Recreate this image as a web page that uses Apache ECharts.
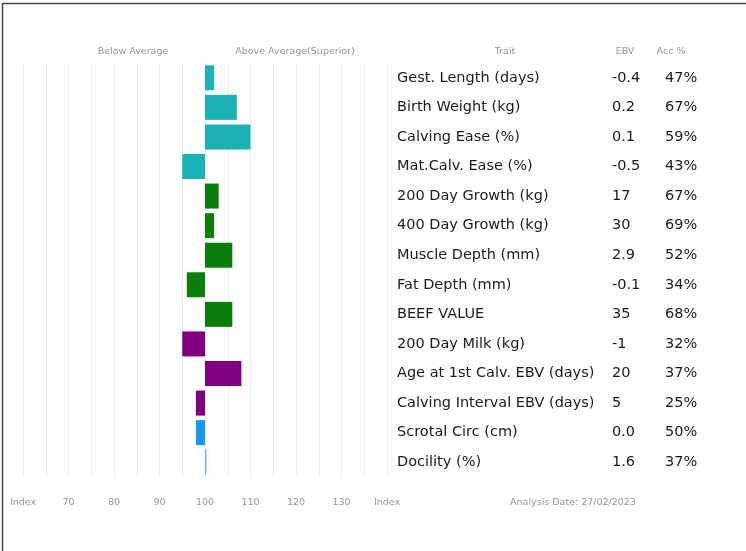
<!DOCTYPE html>
<html>
<head>
<meta charset="utf-8">
<script src="https://cdn.jsdelivr.net/npm/echarts@6/dist/echarts.min.js"></script>
<style>
html,body{margin:0;padding:0;background:#fff;}
#c{width:746px;height:551px;}
</style>
</head>
<body>
<div id="c"></div>
<script>
var traits = ['Gest. Length (days)','Birth Weight (kg)','Calving Ease (%)','Mat.Calv. Ease (%)','200 Day Growth (kg)','400 Day Growth (kg)','Muscle Depth (mm)','Fat Depth (mm)','BEEF VALUE','200 Day Milk (kg)','Age at 1st Calv. EBV (days)','Calving Interval EBV (days)','Scrotal Circ (cm)','Docility (%)'];
var indexValues = [102,107,110,95,103,102,106,96,106,95,108,98,98,100.3];
var ebv = ['-0.4','0.2','0.1','-0.5','17','30','2.9','-0.1','35','-1','20','5','0.0','1.6'];
var acc = ['47%','67%','59%','43%','67%','69%','52%','34%','68%','32%','37%','25%','50%','37%'];
var barColors = ['#1bb3b6','#1bb3b6','#1bb3b6','#1bb3b6','#0a7d0a','#0a7d0a','#0a7d0a','#0a7d0a','#0a7d0a','#800080','#800080','#800080','#1a98ee','#5ab2ee'];
var headers = {below:'Below Average', above:'Above Average(Superior)', trait:'Trait', ebv:'EBV', acc:'Acc %', date:'Analysis Date: 27/02/2023'};

var FONT = 'DejaVu Sans';
var baseData = indexValues.map(function(v){return Math.min(v,100);});
var deltaData = indexValues.map(function(v,i){return {value:Math.abs(v-100), itemStyle:{color:barColors[i]}};});

var chart = echarts.init(document.getElementById('c'));
var smallText = {fill:'#959595', fontSize:9.5, fontFamily:FONT};
function txt(x,y,s,align){return {type:'text', x:x, y:y, style:Object.assign({text:s, textAlign:align||'center', textVerticalAlign:'middle'}, smallText)};}
chart.setOption({
  animation:false,
  grid:{left:23, right:359, top:63, height:414},
  xAxis:{type:'value', min:60, max:140, interval:5,
    axisLine:{show:false}, axisTick:{show:false},
    splitLine:{show:true, lineStyle:{color:'#ececec', width:1}},
    axisLabel:{margin:21, color:'#959595', fontSize:9.5, fontFamily:FONT,
      formatter:function(v){ if(v===60||v===140) return 'Index'; return v%10===0? String(v):''; }}
  },
  yAxis:{type:'category', data:traits, inverse:true, position:'right',
    axisLine:{show:false}, axisTick:{show:false}, splitLine:{show:false},
    axisLabel:{margin:10, align:'left', fontFamily:FONT,
      formatter:function(v, i){ return '{a|'+v+'}{b|'+ebv[i]+'}{c|'+acc[i]+'}'; },
      rich:{
        a:{width:215, fontSize:14.5, color:'#1a1a1a', fontFamily:FONT},
        b:{width:53, fontSize:14.5, color:'#1a1a1a', fontFamily:FONT},
        c:{fontSize:14.5, color:'#1a1a1a', fontFamily:FONT}
      }}
  },
  series:[
    {type:'bar', stack:'s', data:baseData, barWidth:25, itemStyle:{color:'transparent'}, silent:true},
    {type:'bar', stack:'s', data:deltaData, barWidth:25}
  ],
  graphic:[
    {type:'line', shape:{x1:2, y1:3.5, x2:746, y2:3.5}, style:{stroke:'#444', lineWidth:1.5}},
    {type:'line', shape:{x1:2.5, y1:3, x2:2.5, y2:551}, style:{stroke:'#444', lineWidth:1.5}},
    txt(133,52,headers.below), txt(295,52,headers.above),
    txt(505,52,headers.trait), txt(625,52,headers.ebv), txt(671,52,headers.acc),
    txt(573,503,headers.date)
  ]
});
</script>
</body>
</html>
